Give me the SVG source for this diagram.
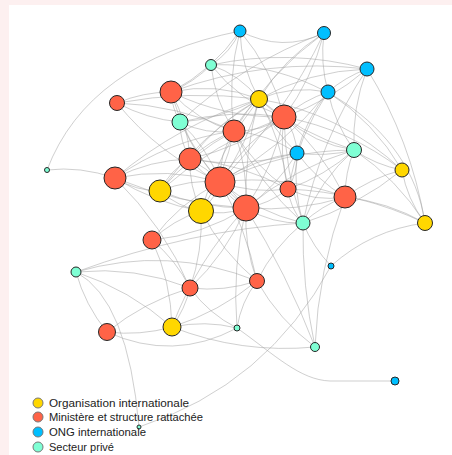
<svg xmlns="http://www.w3.org/2000/svg" width="452" height="455" viewBox="0 0 452 455">
<style>
.e{fill:none;stroke:#a0a0a0;stroke-opacity:0.5;stroke-width:1}
.n{stroke:#262626;stroke-width:1}
.oi{fill:#FFD700}
.mi{fill:#FF6347}
.ong{fill:#00BFFF}
.sp{fill:#7FFFD4}
.lg{stroke:#777;stroke-width:1}
.lt{font-family:"Liberation Sans",Arial,sans-serif;font-size:11.5px;fill:#222}
</style>
<rect x="0" y="0" width="452" height="455" fill="#fdf0f0"/>
<rect x="9" y="5" width="443" height="450" fill="#ffffff"/>
<g id="edges">
<path class="e" d="M47 170 Q80 166 115 178"/>
<path class="e" d="M47 170 Q88 62 240 31"/>
<path class="e" d="M171 92 Q172 108 180 122"/>
<path class="e" d="M171 92 Q197 121 234 131"/>
<path class="e" d="M171 92 Q216 82 259 99"/>
<path class="e" d="M171 92 Q224 118 284 117"/>
<path class="e" d="M171 92 Q143 92 117 103"/>
<path class="e" d="M171 92 Q188 123 190 159"/>
<path class="e" d="M171 92 Q185 143 220 182"/>
<path class="e" d="M171 92 Q194 82 211 65"/>
<path class="e" d="M117 103 Q147 119 180 122"/>
<path class="e" d="M117 103 Q178 105 234 131"/>
<path class="e" d="M117 103 Q159 155 220 182"/>
<path class="e" d="M117 103 Q188 90 259 99"/>
<path class="e" d="M180 122 Q206 135 234 131"/>
<path class="e" d="M180 122 Q232 109 284 117"/>
<path class="e" d="M180 122 Q217 120 259 99"/>
<path class="e" d="M180 122 Q180 142 190 159"/>
<path class="e" d="M180 122 Q207 147 220 182"/>
<path class="e" d="M180 122 Q204 172 246 208"/>
<path class="e" d="M211 65 Q240 75 259 99"/>
<path class="e" d="M211 65 Q215 101 234 131"/>
<path class="e" d="M211 65 Q240 102 284 117"/>
<path class="e" d="M211 65 Q231 52 240 31"/>
<path class="e" d="M211 65 Q290 48 367 69"/>
<path class="e" d="M240 31 Q241 67 259 99"/>
<path class="e" d="M240 31 Q227 80 234 131"/>
<path class="e" d="M240 31 Q272 69 284 117"/>
<path class="e" d="M240 31 Q282 53 324 33"/>
<path class="e" d="M240 31 Q213 70 171 92"/>
<path class="e" d="M324 33 Q284 58 259 99"/>
<path class="e" d="M324 33 Q312 79 284 117"/>
<path class="e" d="M324 33 Q269 73 234 131"/>
<path class="e" d="M324 33 Q284 116 220 182"/>
<path class="e" d="M324 33 Q243 63 180 122"/>
<path class="e" d="M324 33 Q320 63 328 92"/>
<path class="e" d="M367 69 Q309 71 259 99"/>
<path class="e" d="M367 69 Q330 101 284 117"/>
<path class="e" d="M367 69 Q352 108 354 150"/>
<path class="e" d="M367 69 Q345 77 328 92"/>
<path class="e" d="M367 69 Q411 140 425 223"/>
<path class="e" d="M367 69 Q266 57 171 92"/>
<path class="e" d="M367 69 Q320 140 303 223"/>
<path class="e" d="M328 92 Q304 100 284 117"/>
<path class="e" d="M328 92 Q335 124 354 150"/>
<path class="e" d="M328 92 Q298 137 288 189"/>
<path class="e" d="M328 92 Q374 122 402 170"/>
<path class="e" d="M328 92 Q292 85 259 99"/>
<path class="e" d="M328 92 Q283 148 220 182"/>
<path class="e" d="M328 92 Q306 119 297 153"/>
<path class="e" d="M259 99 Q270 110 284 117"/>
<path class="e" d="M259 99 Q243 112 234 131"/>
<path class="e" d="M259 99 Q218 122 190 159"/>
<path class="e" d="M259 99 Q248 144 220 182"/>
<path class="e" d="M259 99 Q244 152 246 208"/>
<path class="e" d="M259 99 Q200 135 160 191"/>
<path class="e" d="M259 99 Q179 124 115 178"/>
<path class="e" d="M259 99 Q301 134 354 150"/>
<path class="e" d="M259 99 Q273 130 297 153"/>
<path class="e" d="M259 99 Q219 149 201 211"/>
<path class="e" d="M259 99 Q282 141 288 189"/>
<path class="e" d="M259 99 Q341 113 402 170"/>
<path class="e" d="M234 131 Q261 132 284 117"/>
<path class="e" d="M234 131 Q209 141 190 159"/>
<path class="e" d="M234 131 Q219 154 220 182"/>
<path class="e" d="M234 131 Q248 168 246 208"/>
<path class="e" d="M234 131 Q191 154 160 191"/>
<path class="e" d="M234 131 Q225 174 201 211"/>
<path class="e" d="M234 131 Q169 140 115 178"/>
<path class="e" d="M234 131 Q254 166 288 189"/>
<path class="e" d="M234 131 Q268 134 297 153"/>
<path class="e" d="M234 131 Q259 184 303 223"/>
<path class="e" d="M284 117 Q244 142 220 182"/>
<path class="e" d="M284 117 Q274 166 246 208"/>
<path class="e" d="M284 117 Q279 153 288 189"/>
<path class="e" d="M284 117 Q296 133 297 153"/>
<path class="e" d="M284 117 Q314 144 354 150"/>
<path class="e" d="M284 117 Q322 151 345 197"/>
<path class="e" d="M284 117 Q349 129 402 170"/>
<path class="e" d="M284 117 Q215 142 160 191"/>
<path class="e" d="M284 117 Q241 147 190 159"/>
<path class="e" d="M284 117 Q285 172 303 223"/>
<path class="e" d="M190 159 Q202 175 220 182"/>
<path class="e" d="M190 159 Q170 170 160 191"/>
<path class="e" d="M190 159 Q150 160 115 178"/>
<path class="e" d="M190 159 Q189 186 201 211"/>
<path class="e" d="M190 159 Q223 178 246 208"/>
<path class="e" d="M190 159 Q244 169 297 153"/>
<path class="e" d="M190 159 Q242 164 288 189"/>
<path class="e" d="M115 178 Q136 191 160 191"/>
<path class="e" d="M115 178 Q168 167 220 182"/>
<path class="e" d="M115 178 Q155 203 201 211"/>
<path class="e" d="M115 178 Q178 204 246 208"/>
<path class="e" d="M115 178 Q164 226 190 288"/>
<path class="e" d="M160 191 Q178 207 201 211"/>
<path class="e" d="M160 191 Q189 179 220 182"/>
<path class="e" d="M160 191 Q201 208 246 208"/>
<path class="e" d="M201 211 Q215 199 220 182"/>
<path class="e" d="M201 211 Q224 216 246 208"/>
<path class="e" d="M201 211 Q173 220 152 240"/>
<path class="e" d="M152 240 Q203 235 246 208"/>
<path class="e" d="M152 240 Q179 203 220 182"/>
<path class="e" d="M220 182 Q229 199 246 208"/>
<path class="e" d="M220 182 Q253 194 288 189"/>
<path class="e" d="M220 182 Q255 158 297 153"/>
<path class="e" d="M220 182 Q257 212 303 223"/>
<path class="e" d="M220 182 Q284 174 345 197"/>
<path class="e" d="M220 182 Q283 150 354 150"/>
<path class="e" d="M220 182 Q246 228 257 281"/>
<path class="e" d="M246 208 Q269 204 288 189"/>
<path class="e" d="M246 208 Q272 224 303 223"/>
<path class="e" d="M246 208 Q297 212 345 197"/>
<path class="e" d="M246 208 Q277 186 297 153"/>
<path class="e" d="M246 208 Q294 168 354 150"/>
<path class="e" d="M246 208 Q244 246 257 281"/>
<path class="e" d="M246 208 Q226 254 190 288"/>
<path class="e" d="M246 208 Q197 260 172 327"/>
<path class="e" d="M246 208 Q287 274 315 347"/>
<path class="e" d="M246 208 Q232 267 237 328"/>
<path class="e" d="M288 189 Q298 172 297 153"/>
<path class="e" d="M288 189 Q290 208 303 223"/>
<path class="e" d="M288 189 Q325 176 354 150"/>
<path class="e" d="M288 189 Q315 202 345 197"/>
<path class="e" d="M288 189 Q360 192 425 223"/>
<path class="e" d="M297 153 Q326 157 354 150"/>
<path class="e" d="M297 153 Q293 189 303 223"/>
<path class="e" d="M297 153 Q317 180 345 197"/>
<path class="e" d="M354 150 Q376 165 402 170"/>
<path class="e" d="M354 150 Q397 179 425 223"/>
<path class="e" d="M354 150 Q345 173 345 197"/>
<path class="e" d="M354 150 Q320 180 303 223"/>
<path class="e" d="M402 170 Q371 178 345 197"/>
<path class="e" d="M402 170 Q407 199 425 223"/>
<path class="e" d="M402 170 Q358 206 303 223"/>
<path class="e" d="M425 223 Q388 202 345 197"/>
<path class="e" d="M331 266 Q371 230 425 223"/>
<path class="e" d="M211 65 C300 60 410 120 425 223"/>
<path class="e" d="M345 197 Q321 206 303 223"/>
<path class="e" d="M345 197 Q318 270 315 347"/>
<path class="e" d="M303 223 Q313 247 331 266"/>
<path class="e" d="M303 223 Q274 247 257 281"/>
<path class="e" d="M303 223 Q302 286 315 347"/>
<path class="e" d="M331 266 Q267 385 139 427"/>
<path class="e" d="M76 272 Q128 300 139 427"/>
<path class="e" d="M76 272 Q85 305 107 332"/>
<path class="e" d="M76 272 Q130 290 172 327"/>
<path class="e" d="M76 272 Q135 266 190 288"/>
<path class="e" d="M76 272 Q168 245 257 281"/>
<path class="e" d="M76 272 Q190 230 303 223"/>
<path class="e" d="M107 332 Q140 336 172 327"/>
<path class="e" d="M107 332 Q144 302 190 288"/>
<path class="e" d="M107 332 Q173 362 237 328"/>
<path class="e" d="M172 327 Q185 309 190 288"/>
<path class="e" d="M172 327 Q219 312 257 281"/>
<path class="e" d="M172 327 Q205 320 237 328"/>
<path class="e" d="M172 327 Q171 281 152 240"/>
<path class="e" d="M172 327 Q241 354 315 347"/>
<path class="e" d="M190 288 Q224 292 257 281"/>
<path class="e" d="M190 288 Q209 314 237 328"/>
<path class="e" d="M190 288 Q176 260 152 240"/>
<path class="e" d="M190 288 Q203 251 201 211"/>
<path class="e" d="M257 281 Q241 302 237 328"/>
<path class="e" d="M257 281 Q279 320 315 347"/>
<path class="e" d="M257 281 Q222 252 201 211"/>
<path class="e" d="M237 328 C275 355 300 380 330 381 L395 381"/>
</g>
<g id="n_Y1"><circle class="n oi" cx="259" cy="99" r="8.5"/></g>
<g id="n_Y2"><circle class="n oi" cx="160" cy="191" r="11"/></g>
<g id="n_Y3"><circle class="n oi" cx="201" cy="211" r="12.5"/></g>
<g id="n_Y4"><circle class="n oi" cx="402" cy="170" r="7"/></g>
<g id="n_Y5"><circle class="n oi" cx="425" cy="223" r="7.5"/></g>
<g id="n_Y6"><circle class="n oi" cx="172" cy="327" r="9"/></g>
<g id="n_R1"><circle class="n mi" cx="117" cy="103" r="7.5"/></g>
<g id="n_R2"><circle class="n mi" cx="171" cy="92" r="11"/></g>
<g id="n_R3"><circle class="n mi" cx="234" cy="131" r="11"/></g>
<g id="n_R4"><circle class="n mi" cx="284" cy="117" r="12"/></g>
<g id="n_R5"><circle class="n mi" cx="190" cy="159" r="11"/></g>
<g id="n_R6"><circle class="n mi" cx="115" cy="178" r="11"/></g>
<g id="n_R7"><circle class="n mi" cx="220" cy="182" r="15"/></g>
<g id="n_R8"><circle class="n mi" cx="246" cy="208" r="13"/></g>
<g id="n_R9"><circle class="n mi" cx="288" cy="189" r="8"/></g>
<g id="n_R10"><circle class="n mi" cx="345" cy="197" r="11"/></g>
<g id="n_R11"><circle class="n mi" cx="152" cy="240" r="9"/></g>
<g id="n_R12"><circle class="n mi" cx="257" cy="281" r="7.5"/></g>
<g id="n_R13"><circle class="n mi" cx="190" cy="288" r="8"/></g>
<g id="n_R14"><circle class="n mi" cx="107" cy="332" r="8.5"/></g>
<g id="n_B1"><circle class="n ong" cx="240" cy="31" r="6"/></g>
<g id="n_B2"><circle class="n ong" cx="324" cy="33" r="6.5"/></g>
<g id="n_B3"><circle class="n ong" cx="367" cy="69" r="7"/></g>
<g id="n_B4"><circle class="n ong" cx="328" cy="92" r="7"/></g>
<g id="n_B5"><circle class="n ong" cx="297" cy="153" r="7"/></g>
<g id="n_B6"><circle class="n ong" cx="331" cy="266" r="3"/></g>
<g id="n_B7"><circle class="n ong" cx="395" cy="381" r="4"/></g>
<g id="n_G1"><circle class="n sp" cx="211" cy="65" r="5.5"/></g>
<g id="n_G2"><circle class="n sp" cx="180" cy="122" r="8"/></g>
<g id="n_G3"><circle class="n sp" cx="354" cy="150" r="7.5"/></g>
<g id="n_G4"><circle class="n sp" cx="303" cy="223" r="7"/></g>
<g id="n_G5"><circle class="n sp" cx="47" cy="170" r="2.5"/></g>
<g id="n_G6"><circle class="n sp" cx="76" cy="272" r="5"/></g>
<g id="n_G7"><circle class="n sp" cx="237" cy="328" r="3"/></g>
<g id="n_G8"><circle class="n sp" cx="315" cy="347" r="4.5"/></g>
<g id="n_G9"><circle class="n sp" cx="139" cy="427" r="2"/></g>
<g id="legend">
<circle class="lg oi" cx="38" cy="403" r="5"/>
<text class="lt" x="49" y="407" textLength="140" lengthAdjust="spacingAndGlyphs">Organisation internationale</text>
<circle class="lg mi" cx="38" cy="417" r="5"/>
<text class="lt" x="49" y="421" textLength="154" lengthAdjust="spacingAndGlyphs">Ministère et structure rattachée</text>
<circle class="lg ong" cx="38" cy="432" r="5"/>
<text class="lt" x="49" y="436" textLength="97" lengthAdjust="spacingAndGlyphs">ONG internationale</text>
<circle class="lg sp" cx="38" cy="447" r="5"/>
<text class="lt" x="49" y="451" textLength="65" lengthAdjust="spacingAndGlyphs">Secteur privé</text>
</g>
</svg>
